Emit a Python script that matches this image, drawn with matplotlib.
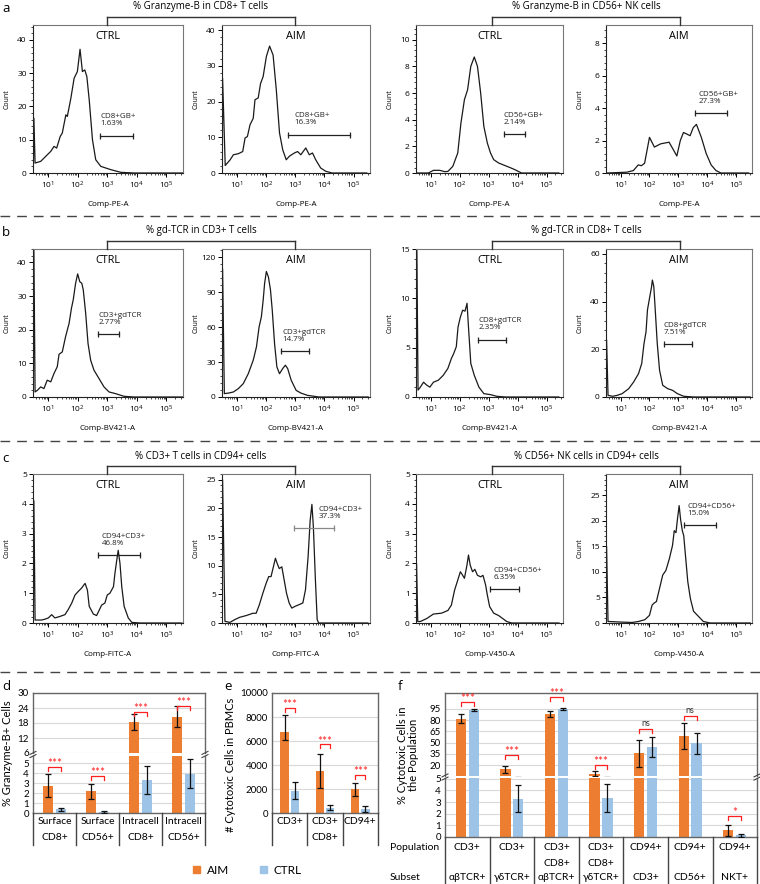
import numpy as np
import matplotlib.pyplot as plt
from matplotlib.lines import Line2D
from matplotlib.patches import Patch
from matplotlib.ticker import AutoMinorLocator

plt.rcParams["font.family"] = ["Open Sans", "DejaVu Sans"]
plt.rcParams["mathtext.default"] = "regular"

# ---------------- flow histograms: x in decades (log10), y = count ----------------
a1_x = [0.50, 0.52, 0.56, 0.75, 0.92, 1.09, 1.20, 1.29, 1.41, 1.48, 1.60, 1.65, 1.77, 1.88,
        1.99, 2.08, 2.16, 2.24, 2.31, 2.39, 2.50, 2.61, 2.78, 3.12, 3.46, 3.91, 5.56]
a1_y = [0, 16.5, 3, 3.5, 5, 6.5, 8, 7.5, 11, 12, 17.5, 17, 22.5, 28.5,
        30.5, 37.2, 30.5, 31, 29, 22, 10, 4, 2, 1, 0.2, 0, 0]

a2_x = [0.50, 0.51, 0.60, 0.77, 0.88, 1.05, 1.20, 1.28, 1.36, 1.45, 1.56, 1.62, 1.73, 1.81,
        1.90, 2.01, 2.12, 2.24, 2.35, 2.46, 2.57, 2.69, 2.80, 2.97, 3.08, 3.19, 3.36, 3.48,
        3.59, 3.70, 3.87, 4.04, 4.26, 5.45]
a2_y = [0, 26.5, 2.1, 3.7, 5.1, 5.4, 6, 9.8, 10.2, 13.5, 15.3, 20.5, 21, 25,
        27, 32.6, 35.5, 33, 23.3, 11.2, 6.5, 3.7, 4.7, 5.6, 6, 5.1, 7, 5.1,
        5.6, 3.7, 1.4, 0.5, 0, 0]

a3_x = [0.52, 0.92, 1.09, 1.31, 1.48, 1.59, 1.76, 1.93, 2.04, 2.16, 2.27, 2.38, 2.50,
        2.61, 2.72, 2.83, 2.95, 3.06, 3.17, 3.34, 3.51, 3.74, 3.90, 4.13, 5.42]
a3_y = [0, 0, 0.2, 0.2, 0.1, 0.12, 0.5, 1.5, 3.75, 5.5, 6.25, 8, 8.7,
        8, 6, 3.5, 2.25, 1.5, 1, 0.75, 0.6, 0.4, 0.25, 0, 0]

a4_x = [0.54, 1.21, 1.44, 1.61, 1.72, 1.83, 2.00, 2.17, 2.39, 2.68, 2.84, 2.95, 3.07,
        3.18, 3.30, 3.41, 3.52, 3.63, 3.80, 3.97, 4.14, 4.31, 4.48, 5.44]
a4_y = [0, 0.05, 0.15, 0.5, 0.45, 0.6, 2.2, 1.6, 1.8, 1.9, 1.4, 1.05, 2.0,
        2.5, 2.4, 2.3, 2.8, 3.0, 2.2, 1.2, 0.5, 0.15, 0, 0]

b1_x = [0.50, 0.52, 0.56, 0.64, 0.75, 0.86, 0.97, 1.09, 1.20, 1.31, 1.37, 1.48, 1.59, 1.71,
        1.79, 1.85, 1.93, 2.00, 2.07, 2.14, 2.19, 2.27, 2.35, 2.44, 2.55, 2.72, 2.89, 3.06,
        3.28, 3.57, 3.90, 5.54]
b1_y = [0, 44, 1.5, 2, 3, 2.5, 5, 4.5, 7, 9, 12.7, 13.4, 17.9, 21.9,
        26.4, 28.9, 33.8, 36.6, 34.3, 33.8, 31.8, 24.9, 15.9, 10.9, 8, 5.5, 3, 1.5,
        1, 0.2, 0, 0]

b2_x = [0.50, 0.51, 0.57, 0.72, 0.88, 1.05, 1.22, 1.39, 1.56, 1.67, 1.76, 1.84, 1.90, 1.95,
        2.01, 2.08, 2.15, 2.21, 2.29, 2.37, 2.46, 2.57, 2.66, 2.74, 2.86, 3.03, 3.19, 3.42,
        3.81, 5.50]
b2_y = [0, 110, 2.9, 3.4, 4.3, 7.2, 11.5, 20, 31.6, 43, 60, 69, 83, 97.6,
        107.7, 103, 92, 75, 46, 25.8, 20, 24.4, 27.3, 24.4, 14.4, 5.7, 3.4, 1.4,
        0, 0]

b3_x = [0.50, 0.52, 0.56, 0.64, 0.75, 0.86, 0.97, 1.09, 1.26, 1.43, 1.59, 1.71, 1.79, 1.88,
        1.94, 2.02, 2.10, 2.18, 2.25, 2.30, 2.38, 2.50, 2.66, 2.83, 3.06, 3.28, 3.57, 5.42]
b3_y = [0, 15, 0.7, 1.0, 1.5, 1.2, 1.0, 1.5, 1.7, 2.2, 2.9, 3.9, 4.4, 5.1,
        7.1, 8.1, 8.8, 8.7, 9.5, 7.1, 3.4, 2.2, 1.0, 0.34, 0.24, 0.07, 0, 0]

b4_x = [0.50, 0.51, 0.56, 0.72, 0.88, 1.05, 1.28, 1.45, 1.62, 1.73, 1.81, 1.88, 1.93, 2.01,
        2.07, 2.10, 2.15, 2.20, 2.27, 2.35, 2.46, 2.63, 2.80, 2.97, 3.19, 3.53, 5.50]
b4_y = [0, 24, 0.7, 0.3, 0.7, 1.4, 3.5, 6.3, 9.8, 14, 22.4, 27.3, 36.5, 42,
        46, 49, 46.3, 36.5, 22.4, 11.2, 4.9, 3.5, 2.8, 1.4, 0.3, 0, 0]

c1_x = [0.50, 0.52, 0.56, 0.67, 0.78, 0.90, 1.01, 1.12, 1.23, 1.40, 1.57, 1.68, 1.80, 1.91,
        2.02, 2.13, 2.25, 2.33, 2.39, 2.53, 2.64, 2.81, 2.92, 3.00, 3.09, 3.21, 3.26, 3.32,
        3.37, 3.43, 3.49, 3.57, 3.71, 3.83, 4.11, 5.52]
c1_y = [0, 4.1, 0.1, 0.1, 0.1, 0.13, 0.17, 0.28, 0.17, 0.22, 0.28, 0.45, 0.67, 0.94,
        1.06, 1.17, 1.33, 1.1, 0.56, 0.3, 0.25, 0.6, 0.67, 0.94, 1.0, 1.22, 1.67, 2.1,
        2.44, 2.0, 1.22, 0.56, 0.17, 0.02, 0, 0]

c2_x = [0.50, 0.51, 0.59, 0.76, 0.93, 1.10, 1.32, 1.55, 1.66, 1.77, 1.89, 2.00, 2.09, 2.17,
        2.25, 2.32, 2.38, 2.45, 2.54, 2.62, 2.70, 2.79, 2.88, 2.99, 3.13, 3.26, 3.35, 3.44,
        3.51, 3.57, 3.62, 3.69, 3.75, 3.80, 5.49]
c2_y = [0, 25, 0.3, 0.1, 0.6, 1.0, 1.3, 1.7, 1.7, 3.2, 5.2, 6.9, 8.1, 8.1,
        9.8, 11.3, 10.4, 9.5, 9.8, 7.5, 5.2, 3.5, 2.6, 2.9, 3.2, 3.5, 5.8, 11.6,
        17.9, 20.7, 16.8, 7.5, 0.6, 0, 0]

c3_x = [0.50, 0.51, 0.55, 0.64, 0.86, 1.09, 1.37, 1.59, 1.71, 1.82, 1.93, 2.02, 2.10, 2.16,
        2.24, 2.30, 2.36, 2.44, 2.52, 2.61, 2.72, 2.80, 2.89, 2.95, 3.03, 3.17, 3.34, 3.62,
        3.79, 5.42]
c3_y = [0, 2.0, 0.05, 0.05, 0.15, 0.3, 0.33, 0.42, 0.6, 1.1, 1.44, 1.72, 1.6, 1.5,
        1.9, 2.28, 1.94, 1.72, 1.8, 1.6, 1.55, 1.6, 1.28, 0.94, 0.55, 0.33, 0.25, 0.05,
        0, 0]

c4_x = [0.50, 0.51, 0.56, 0.94, 1.39, 1.62, 1.84, 2.00, 2.09, 2.16, 2.24, 2.35, 2.46, 2.57,
        2.69, 2.80, 2.86, 2.92, 2.97, 3.03, 3.08, 3.14, 3.19, 3.25, 3.33, 3.42, 3.53, 3.87,
        4.10, 5.50]
c4_y = [0, 15, 0.3, 0.2, 0.1, 0.3, 0.65, 1.5, 3.5, 3.9, 4.2, 6.8, 9.4, 10.3,
        12.6, 15.2, 18.1, 17.7, 20.3, 23.0, 20.3, 18.1, 17.1, 13.2, 8.1, 4.8, 2.3, 0.3,
        0, 0]

# gates: (start, end, level), label, label x
gates = {
    "a1": ((2.76, 3.88, 11.2), "CD8+GB+\n1.63%", 2.76),
    "a2": ((2.74, 4.88, 10.7), "CD8+GB+\n16.3%", 2.97),
    "a3": ((3.51, 4.26, 2.9), "CD56+GB+\n2.14%", 3.51),
    "a4": ((3.58, 4.70, 3.7), "CD56+GB+\n27.3%", 3.69),
    "b1": ((2.69, 3.40, 18.7), "CD3+gdTCR\n2.77%", 2.69),
    "b2": ((2.52, 3.48, 39.6), "CD3+gdTCR\n14.7%", 2.57),
    "b3": ((2.64, 3.59, 5.8), "CD8+gdTCR\n2.35%", 2.66),
    "b4": ((2.50, 3.48, 22.0), "CD8+gdTCR\n7.51%", 2.50),
    "c1": ((2.70, 4.11, 2.28), "CD94+CD3+\n46.8%", 2.81),
    "c2": ((2.96, 4.31, 16.6), "CD94+CD3+\n37.3%", 3.80),
    "c3": ((3.03, 4.04, 1.13), "CD94+CD56+\n6.35%", 3.17),
    "c4": ((3.19, 4.30, 19.2), "CD94+CD56+\n15.0%", 3.31),
}

# y-axis top and major ticks of each histogram
y_top = {"a1": 44.5, "a2": 41.4, "a3": 11.1, "a4": 9.13,
         "b1": 44, "b2": 127, "b3": 15, "b4": 62,
         "c1": 5, "c2": 26, "c3": 5, "c4": 29.2}
y_step = {"a1": 10, "a2": 10, "a3": 2, "a4": 2,
          "b1": 10, "b2": 30, "b3": 5, "b4": 20,
          "c1": 1, "c2": 5, "c3": 1, "c4": 5}

titles_left = ["% Granzyme-B in CD8+ T cells", "% gd-TCR in CD3+ T cells", "% CD3+ T cells in CD94+ cells"]
titles_right = ["% Granzyme-B in CD56+ NK cells", "% gd-TCR in CD8+ T cells", "% CD56+ NK cells in CD94+ cells"]
xlabels_left = ["Comp-PE-A", "Comp-BV421-A", "Comp-FITC-A"]
xlabels_right = ["Comp-PE-A", "Comp-BV421-A", "Comp-V450-A"]

# ---------------- bar charts ----------------
d_row1 = ["Surface", "Surface", "Intracell", "Intracell"]
d_row2 = ["CD8+", "CD56+", "CD8+", "CD56+"]
d_aim = [2.75, 2.2, 18.3, 20.6]
d_aim_err = [1.15, 0.75, 3.2, 4.2]
d_ctrl = [0.43, 0.15, 3.35, 3.95]
d_ctrl_err = [0.15, 0.07, 1.42, 1.45]
d_sig = ["***", "***", "***", "***"]
d_sig_y = [4.67, 3.73, 22.5, 24.9]

e_row1 = ["CD3+", "CD3+", "CD94+"]
e_row2 = ["", "CD8+", ""]
e_aim = [6770, 3510, 1990]
e_aim_err = [[640, 1440, 550], [1430, 1380, 550]]
e_ctrl = [1880, 470, 360]
e_ctrl_err = [720, 230, 220]
e_sig = ["***", "***", "***"]
e_sig_y = [8780, 5720, 3180]

f_row1 = ["CD3+", "CD3+", "CD3+", "CD3+", "CD94+", "CD94+", "CD94+"]
f_row2 = ["", "", "CD8+", "CD8+", "", "", ""]
f_subset = ["αβTCR+", "γδTCR+", "αβTCR+", "γδTCR+", "CD3+", "CD56+", "NKT+"]
f_aim = [82, 14.2, 88.3, 8.4, 36, 58.8, 0.57]
f_aim_err = [6, 5, 3.5, 3, 18, 18, 0.5]
f_ctrl = [93.7, 3.3, 95, 3.37, 44, 49, 0.14]
f_ctrl_err = [1.5, 1.13, 1, 1.2, 13, 14, 0.12]
f_sig = ["***", "***", "***", "***", "ns", "ns", "*"]
f_sig_y = [104, 33.4, 111.5, 20.4, 68, 86, 1.77]

ORANGE = "#ED7D31"
BLUE = "#9DC3E6"
BAR_FONT = ["Lato", "DejaVu Sans"]

W, H = 760, 884
fig = plt.figure(figsize=(W / 100, H / 100), dpi=100)


def add_box(l, t, r, b):
    return fig.add_axes([l / W, 1 - b / H, (r - l) / W, (b - t) / H])


def px_line(x0, y0, x1, y1, **kw):
    fig.add_artist(Line2D([x0 / W, x1 / W], [1 - y0 / H, 1 - y1 / H], **kw))


def px_text(x, y, s, **kw):
    fig.text(x / W, 1 - y / H, s, **kw)


minor_x = [d + np.log10(k) for d in range(0, 6) for k in range(2, 10)
           if 0.49 < d + np.log10(k) < 5.56]


def flow(key, box, xs, ys, tag):
    l, t, r, b = box
    ax = add_box(l, t, r, b)
    ax.plot(xs, ys, color="#1a1a1a", lw=0.9, solid_joinstyle="round")
    ax.set_xlim(0.49, 5.56)
    ax.set_ylim(0, y_top[key])
    ax.set_xticks([1, 2, 3, 4, 5])
    ax.set_xticklabels([f"$10^{{{k}}}$" for k in range(1, 6)])
    ax.set_xticks(minor_x, minor=True)
    ax.set_yticks(np.arange(0, y_top[key] + 0.01, y_step[key]))
    ax.yaxis.set_minor_locator(AutoMinorLocator(5))
    ax.tick_params(which="major", length=3, width=0.7, labelsize=6, pad=1.5)
    ax.tick_params(which="minor", length=1.6, width=0.5)
    for side, sp in ax.spines.items():
        sp.set_linewidth(0.8)
        sp.set_color("#222" if side in ("left", "bottom") else "#777")
    (g0, g1, gy), gtxt, tx = gates[key]
    gcol = "#888" if key == "c2" else "#222"
    ax.plot([g0, g1], [gy, gy], color=gcol, lw=0.9)
    ax.plot([g0, g1], [gy, gy], ls="none", marker="|", ms=5, mew=0.9, color=gcol)
    ax.annotate(gtxt, (tx, gy), xytext=(0, 6), textcoords="offset points",
                fontsize=5.8, ha="left", va="bottom", linespacing=1.0, color="#222")
    ax.text(0.5, 0.92, tag, transform=ax.transAxes, ha="center", va="center", fontsize=7.8)
    ax.set_ylabel("Count", fontsize=5)
    ax.yaxis.set_label_coords(-0.15, 0.5)
    return ax


rows = [("a", 25, 173, [a1_x, a2_x, a3_x, a4_x], [a1_y, a2_y, a3_y, a4_y]),
        ("b", 249, 397, [b1_x, b2_x, b3_x, b4_x], [b1_y, b2_y, b3_y, b4_y]),
        ("c", 474, 623, [c1_x, c2_x, c3_x, c4_x], [c1_y, c2_y, c3_y, c4_y])]
cols = [(33, 183), (222, 370), (416, 563), (606, 752)]
tags = ["CTRL", "AIM", "CTRL", "AIM"]

for i, (letter, top, bot, xs_list, ys_list) in enumerate(rows):
    for j in range(4):
        flow(f"{letter}{j + 1}", (cols[j][0], top, cols[j][1], bot), xs_list[j], ys_list[j], tags[j])
        xl = xlabels_left[i] if j < 2 else xlabels_right[i]
        px_text((cols[j][0] + cols[j][1]) / 2, bot + 31, xl, ha="center", va="center", fontsize=5.8)
    px_text(2, top - 16, letter, fontsize=9.5, va="center", ha="left")
    for (bx0, bx1), ttl in [((107, 295), titles_left[i]), ((492, 680), titles_right[i])]:
        px_line(bx0, top, bx0, top - 8, color="#333", lw=1)
        px_line(bx0, top - 8, bx1, top - 8, color="#333", lw=1)
        px_line(bx1, top - 8, bx1, top, color="#333", lw=1)
        px_text((bx0 + bx1) / 2, top - 18, ttl, ha="center", va="center", fontsize=7)

for y in (216, 441, 672):
    px_line(0, y, W, y, color="#444", lw=1.0, dashes=(7, 5))


# ---------------- bar panels ----------------
def style_bar_ax(ax, n, yticks, ylim):
    ax.set_xlim(-0.5, n - 0.5)
    ax.set_ylim(*ylim)
    ax.set_xticks([])
    ax.set_yticks(yticks)
    ax.grid(axis="y", color="#d9d9d9", lw=0.8)
    ax.set_axisbelow(True)
    ax.tick_params(axis="y", length=0, labelsize=7, pad=3)
    for lab in ax.get_yticklabels():
        lab.set_family(BAR_FONT)
    for sp in ax.spines.values():
        sp.set_color("#666")
        sp.set_linewidth(1)


def draw_bars(axes, aim, aim_err, ctrl, ctrl_err):
    x = np.arange(len(aim))
    for ax in axes:
        ax.bar(x - 0.145, aim, 0.23, color=ORANGE, zorder=2)
        ax.bar(x + 0.145, ctrl, 0.23, color=BLUE, zorder=2)
        ax.errorbar(x - 0.145, aim, yerr=aim_err, fmt="none", ecolor="#111",
                    elinewidth=0.9, capsize=2.2, capthick=0.9, zorder=3)
        ax.errorbar(x + 0.145, ctrl, yerr=ctrl_err, fmt="none", ecolor="#111",
                    elinewidth=0.9, capsize=2.2, capthick=0.9, zorder=3)


def draw_sig(axes, sigs, sig_y):
    for k, (s, y) in enumerate(zip(sigs, sig_y)):
        ax = next(a for a in axes if a.get_ylim()[0] <= y <= a.get_ylim()[1])
        y0, y1 = ax.get_ylim()
        hpx = ax.get_position().height * H
        leg = 4 * (y1 - y0) / hpx
        ax.plot([k - 0.145, k - 0.145, k + 0.145, k + 0.145], [y - leg, y, y, y - leg],
                color="#FF2020", lw=0.9, zorder=4, clip_on=False)
        star = s != "ns"
        ax.annotate(s, (k, y), xytext=(0, -1.5 if star else 0.5), textcoords="offset points",
                    ha="center", va="bottom", fontsize=8.5 if star else 6.5,
                    color="#FF2020" if star else "#333", family=BAR_FONT)


def break_mark(x, y):
    for off in (-1.6, 1.6):
        px_line(x - 3, y + 1.5 + off, x + 3, y - 1.5 + off, color="#444", lw=0.8)


def table(x0, gw, n, ytop, ybot, rows_txt):
    for k in range(n + 1):
        px_line(x0 + k * gw, ytop, x0 + k * gw, ybot, color="#444", lw=1)
    for ytxt, labels in rows_txt:
        for k, s in enumerate(labels):
            if s:
                px_text(x0 + (k + 0.5) * gw, ytxt, s, ha="center", va="center",
                        fontsize=7.5, family=BAR_FONT)


# panel d
d_lo = add_box(33, 756, 205, 813.3)
d_hi = add_box(33, 693, 205, 753)
style_bar_ax(d_lo, 4, [0, 1, 2, 3, 4, 5], (0, 5.73))
style_bar_ax(d_hi, 4, [6, 12, 18, 24, 30], (6, 30))
d_lo.spines["top"].set_visible(False)
d_hi.spines["bottom"].set_visible(False)
draw_bars([d_lo, d_hi], d_aim, d_aim_err, d_ctrl, d_ctrl_err)
draw_sig([d_lo, d_hi], d_sig, d_sig_y)
break_mark(33, 754.5)
break_mark(205, 754.5)
table(33, 43, 4, 813, 845, [(822, d_row1), (837, d_row2)])
px_text(8, 753, "% Granzyme-B+ Cells", rotation=90, ha="center", va="center",
        fontsize=8, family=BAR_FONT)
px_text(2, 686, "d", fontsize=9.5, va="center", ha="left")

# panel e
e_ax = add_box(272, 693, 378, 813.3)
style_bar_ax(e_ax, 3, [0, 2000, 4000, 6000, 8000, 10000], (0, 10000))
draw_bars([e_ax], e_aim, e_aim_err, e_ctrl, e_ctrl_err)
draw_sig([e_ax], e_sig, e_sig_y)
table(272, 35.3, 3, 813, 845, [(821, e_row1), (837, e_row2)])
px_text(231, 765, "# Cytotoxic Cells in PBMCs", rotation=90, ha="center", va="center",
        fontsize=8, family=BAR_FONT)
px_text(224, 686, "e", fontsize=9.5, va="center", ha="left")

# panel f
f_lo = add_box(445, 778, 757, 837)
f_hi = add_box(445, 693, 757, 776)
style_bar_ax(f_lo, 7, [0, 1, 2, 3, 4, 5], (0, 5.06))
style_bar_ax(f_hi, 7, [20, 35, 50, 65, 80, 95], (5.3, 116.4))
f_lo.spines["top"].set_visible(False)
f_hi.spines["bottom"].set_visible(False)
draw_bars([f_lo, f_hi], f_aim, f_aim_err, f_ctrl, f_ctrl_err)
draw_sig([f_lo, f_hi], f_sig, f_sig_y)
break_mark(445, 777)
break_mark(757, 777)
table(445, 44.6, 7, 837, 884, [(847, f_row1), (863, f_row2), (877, f_subset)])
px_text(390, 847, "Population", ha="left", va="center", fontsize=7.5, family=BAR_FONT)
px_text(390, 877, "Subset", ha="left", va="center", fontsize=7.5, family=BAR_FONT)
px_text(408, 755, "% Cytotoxic Cells in\nthe Population", rotation=90, ha="center",
        va="center", fontsize=8, family=BAR_FONT, linespacing=1.1)
px_text(398, 686, "f", fontsize=9.5, va="center", ha="left")

# legend
fig.legend(handles=[Patch(color=ORANGE, label="AIM"), Patch(color=BLUE, label="CTRL")],
           loc="center left", bbox_to_anchor=(182 / W, 1 - 870 / H), ncol=2, frameon=False,
           handlelength=0.6, handleheight=0.6, handletextpad=0.6, columnspacing=2.6,
           prop={"family": BAR_FONT, "size": 8.5})

fig.savefig("out.png", dpi=100)
